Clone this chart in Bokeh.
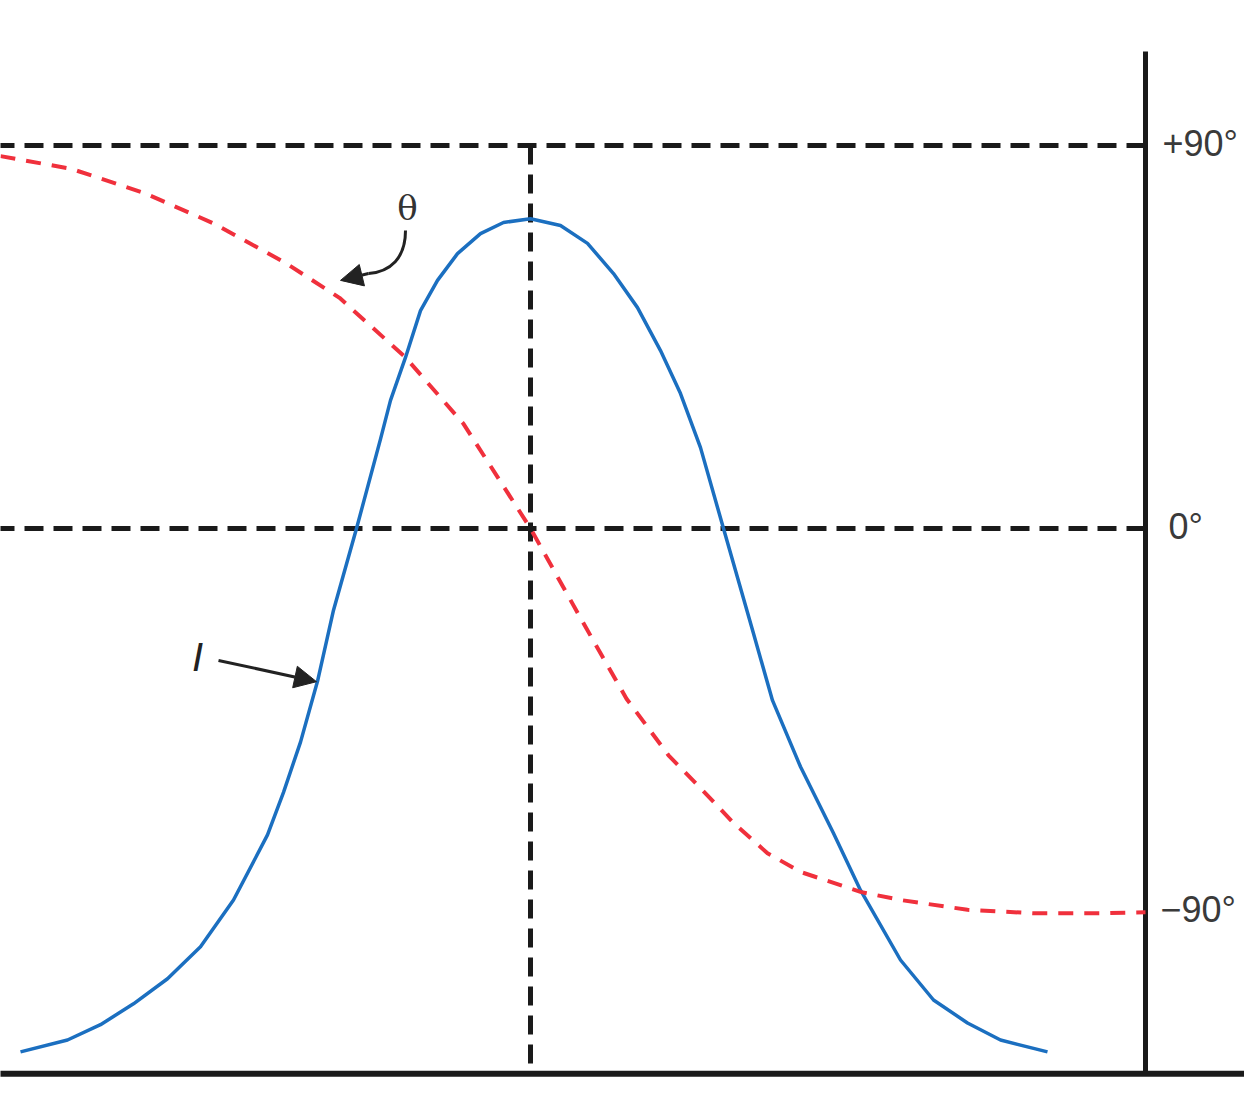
from bokeh.plotting import figure
from bokeh.models import Arrow, NormalHead
from bokeh.core.properties import value
from bokeh.embed import file_html
from bokeh.resources import INLINE

# frequency offset from resonance (arbitrary units, 0 = resonance)
freq_I = [-5.10, -4.63, -4.30, -3.97, -3.63, -3.30, -2.97, -2.63, -2.47, -2.30,
          -2.13, -1.97, -1.74, -1.50, -1.40, -1.25, -1.10, -0.93, -0.73, -0.50,
          -0.27, 0.00, 0.30, 0.57, 0.83, 1.07, 1.30, 1.50, 1.70, 1.93, 2.23,
          2.42, 2.70, 3.03, 3.30, 3.70, 4.03, 4.37, 4.70, 5.17]
# current amplitude I, drawn on the phase scale
curr_I = [-123, -120.2, -116.6, -111.7, -105.8, -98.3, -87.3, -72, -62, -50.2,
          -35.9, -19.2, 0, 21, 30.1, 40.2, 51.2, 58.3, 64.6, 69.3,
          71.9, 72.8, 71.2, 67, 59.9, 51.9, 41.8, 31.7, 19, 0, -24.7,
          -40.4, -56, -71.6, -85, -101.4, -110.8, -116.2, -120.2, -123]

# phase angle theta (degrees)
freq_theta = [-5.30, -4.59, -3.87, -3.16, -2.45, -1.91, -1.25, -0.67, 0.00, 0.54,
              0.96, 1.38, 1.70, 2.03, 2.37, 2.70, 3.30, 3.70, 4.37, 5.03, 5.70, 6.15]
phase_theta = [87.5, 84.5, 78.9, 71.6, 62.4, 54.2, 40.2, 24.6, 0, -22.7,
               -40, -53.3, -61, -69.2, -76.3, -80.7, -85.4, -87.3, -89.6, -90.4, -90.4, -90.2]

phase_ticks = [90, 0, -90]
phase_labels = ["+90°", "0°", "−90°"]

W, H = 1244, 1079
p = figure(width=W, height=H, x_range=(-5.30, 7.14), y_range=(-129.48, 124.07),
           output_backend="svg", toolbar_location=None, min_border=0)
p.axis.visible = False
p.grid.visible = False
p.outline_line_color = None
p.background_fill_color = "white"

x_left, x_right = -5.35, 6.15
y_base = -128.1

# reference lines
p.multi_line(xs=[[x_left, x_right], [x_left, x_right]], ys=[[90, 90], [0, 0]],
             line_color="#1a1a1a", line_width=5, line_dash="19 10")
p.line(x=[0, 0], y=[90, y_base], line_color="#1a1a1a", line_width=5, line_dash="19 10")

# frame: right phase scale and bottom frequency axis
p.line(x=[x_right, x_right], y=[112.1, y_base], line_color="#1a1a1a", line_width=5)
p.line(x=[x_left, 7.4], y=[y_base, y_base], line_color="#1a1a1a", line_width=6)

# curves
p.line(freq_I, curr_I, line_color="#1b6fc0", line_width=3.5, line_join="round")
p.line(freq_theta, phase_theta, line_color="#f0303c", line_width=4,
       line_dash="15 11", line_join="round")

# phase tick labels
p.text(x=[6.32, 6.38, 6.30], y=phase_ticks, text=phase_labels,
       text_font=value("Liberation Sans"), text_font_size="36px",
       text_baseline="middle", text_color="#3a3a3a", y_offset=-2)

# theta label with curved arrow
p.text(x=[-1.23], y=[75.2], text=["θ"], text_font=value("DejaVu Serif"),
       text_font_size="34px", text_align="center", text_baseline="middle",
       text_color="#333333")
p.bezier(x0=[-1.25], y0=[70.0], x1=[-1.62], y1=[59.9],
         cx0=[-1.25], cy0=[63.5], cx1=[-1.40], cy1=[60.4],
         line_color="#222222", line_width=3)
p.add_layout(Arrow(end=NormalHead(size=22, fill_color="#222222", line_color="#222222"),
                   x_start=-1.62, y_start=59.9, x_end=-1.90, y_end=58.3,
                   line_color="#222222", line_width=3))

# I label with arrow
p.text(x=[-3.33], y=[-30.1], text=["I"], text_font=value("Liberation Sans"),
       text_font_style="italic", text_font_size="40px", text_align="center",
       text_baseline="middle", text_color="#222222")
p.add_layout(Arrow(end=NormalHead(size=22, fill_color="#222222", line_color="#222222"),
                   x_start=-3.12, y_start=-31.0, x_end=-2.14, y_end=-36.0,
                   line_color="#222222", line_width=3))

open("out.html", "w").write(file_html(p, INLINE))
